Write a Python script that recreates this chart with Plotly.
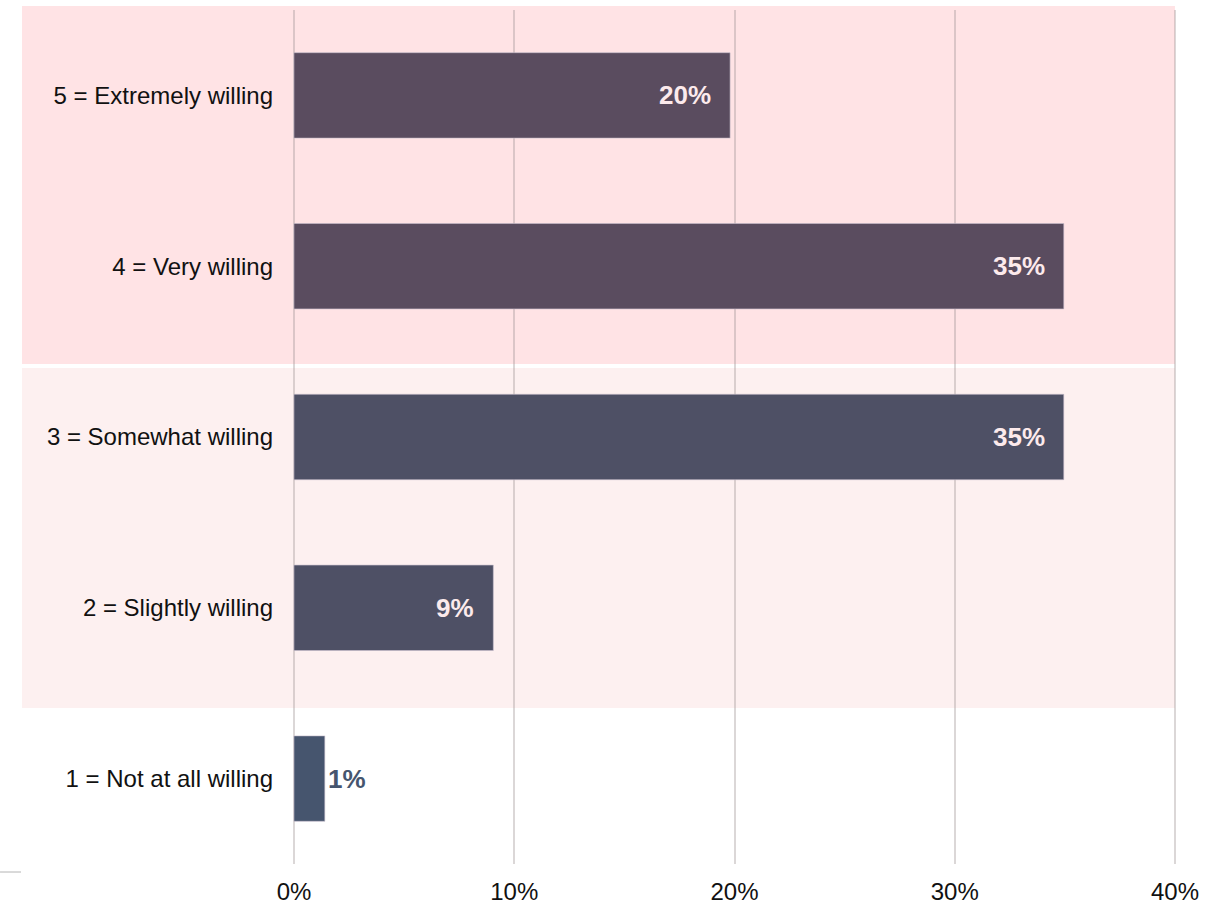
import plotly.graph_objects as go

# Survey responses, listed bottom-to-top on the chart
categories = [
    "1 = Not at all willing",
    "2 = Slightly willing",
    "3 = Somewhat willing",
    "4 = Very willing",
    "5 = Extremely willing",
]
shares = [1.4, 9.05, 34.95, 34.95, 19.8]
bar_colors = ["#46556E", "#4E5065", "#4E5065", "#5A4C5F", "#5A4C5F"]

x_ticks = [0, 10, 20, 30, 40]
x_tick_labels = ["0%", "10%", "20%", "30%", "40%"]

FONT = "Liberation Sans, Arial, sans-serif"

fig = go.Figure(
    go.Bar(
        x=shares,
        y=categories,
        orientation="h",
        width=0.5,
        marker=dict(color=bar_colors, line=dict(color="rgba(200,190,205,0.6)", width=1)),
        hoverinfo="skip",
    )
)

# Value labels: inside the bar end for wide bars, just past the end for narrow ones
annotations = []
for cat, val in zip(categories, shares):
    inside = val >= 5
    annotations.append(
        dict(
            x=val,
            y=cat,
            xref="x",
            yref="y",
            text=f"<b>{val:.0f}%</b>",
            showarrow=False,
            xanchor="right" if inside else "left",
            xshift=-17 if inside else 1,
            yanchor="middle",
            font=dict(family=FONT, size=26, color="#FCEAEC" if inside else "#46556E"),
        )
    )

# Shaded bands grouping the top-two and middle responses
shapes = [
    dict(type="rect", xref="paper", yref="paper", x0=-0.3051, x1=0.9977,
         y0=0.5855, y1=1.0047, fillcolor="#FFE3E5", line=dict(width=0), layer="below"),
    dict(type="rect", xref="paper", yref="paper", x0=-0.3051, x1=0.9977,
         y0=0.1827, y1=0.5808, fillcolor="#FDF0F0", line=dict(width=0), layer="below"),
    dict(type="line", xref="paper", yref="paper", x0=-0.3299, x1=-0.3062,
         y0=-0.0094, y1=-0.0094, line=dict(color="#D9D9D9", width=2)),
]

fig.update_layout(
    width=1223,
    height=905,
    margin=dict(l=292, r=46, t=10, b=41),
    paper_bgcolor="white",
    plot_bgcolor="rgba(0,0,0,0)",
    showlegend=False,
    shapes=shapes,
    annotations=annotations,
    font=dict(family=FONT, size=24, color="#111111"),
)

fig.update_xaxes(
    range=[-0.09, 40.09],
    tickvals=x_ticks,
    ticktext=x_tick_labels,
    showgrid=True,
    gridcolor="rgba(160,150,150,0.38)",
    gridwidth=2,
    zeroline=False,
    showline=False,
    ticks="outside",
    ticklen=6,
    tickcolor="rgba(0,0,0,0)",
    tickfont=dict(family=FONT, size=24, color="#111111"),
    automargin=False,
)

fig.update_yaxes(
    categoryorder="array",
    categoryarray=categories,
    range=[-0.5, 4.5],
    showgrid=False,
    zeroline=False,
    showline=False,
    ticks="",
    ticklabelstandoff=18,
    tickfont=dict(family=FONT, size=24, color="#111111"),
    automargin=False,
)

fig.write_html("out.html")
